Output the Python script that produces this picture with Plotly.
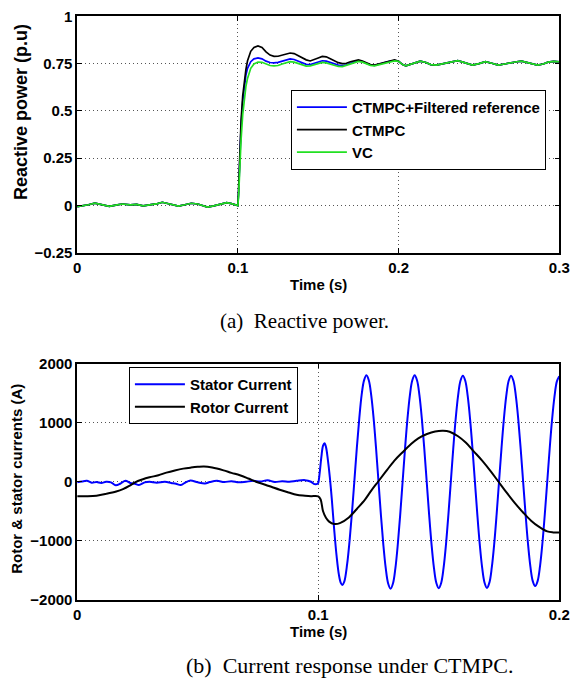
import plotly.graph_objects as go

W, H = 581, 687

# ---------------- Data: (a) reactive power (p.u) ----------------
q_pre_t = [0.000, 0.003, 0.007, 0.011, 0.015, 0.020, 0.024, 0.028, 0.033, 0.037, 0.041, 0.046, 0.050, 0.053,
           0.057, 0.063, 0.067, 0.071, 0.075, 0.078, 0.081, 0.085, 0.089, 0.093, 0.096, 0.0995, 0.1000]
q_pre = [-0.006, -0.003, 0.004, 0.012, 0.004, -0.004, 0.002, 0.008, 0.003, 0.006, -0.002, 0.004, 0.010, 0.017,
         0.008, -0.003, 0.004, 0.012, 0.008, 0.002, -0.008, -0.002, 0.006, 0.015, 0.010, 0.000, 0.000]

q_tr_t = [0.1005, 0.101, 0.102, 0.103, 0.104, 0.105, 0.106, 0.108, 0.110, 0.1125, 0.115, 0.1175, 0.120, 0.1225,
          0.125, 0.1275, 0.130, 0.1325, 0.135, 0.1375, 0.140, 0.1425, 0.145, 0.1475, 0.150, 0.1525, 0.155, 0.1575,
          0.160, 0.1625, 0.165, 0.1675, 0.170, 0.1725, 0.175, 0.1775, 0.180, 0.1825, 0.185, 0.1875, 0.190, 0.1925,
          0.195, 0.1975]
q_ctmpc_filt = [0.08, 0.22, 0.42, 0.55, 0.63, 0.69, 0.725, 0.760, 0.775, 0.780, 0.775, 0.763, 0.756, 0.754,
                0.757, 0.764, 0.770, 0.775, 0.772, 0.763, 0.752, 0.746, 0.745, 0.752, 0.760, 0.765, 0.763, 0.755,
                0.748, 0.742, 0.740, 0.744, 0.752, 0.760, 0.765, 0.760, 0.750, 0.743, 0.740, 0.745, 0.752, 0.758,
                0.764, 0.766]
q_ctmpc = [0.10, 0.25, 0.45, 0.58, 0.66, 0.72, 0.765, 0.815, 0.835, 0.843, 0.835, 0.812, 0.795, 0.788,
           0.789, 0.796, 0.800, 0.806, 0.803, 0.792, 0.780, 0.770, 0.764, 0.770, 0.780, 0.788, 0.786, 0.776,
           0.765, 0.755, 0.750, 0.752, 0.760, 0.766, 0.770, 0.764, 0.754, 0.745, 0.742, 0.748, 0.755, 0.762,
           0.767, 0.770]
q_vc = [0.06, 0.18, 0.35, 0.48, 0.57, 0.63, 0.672, 0.725, 0.748, 0.758, 0.757, 0.748, 0.740, 0.738,
        0.740, 0.748, 0.755, 0.760, 0.758, 0.750, 0.742, 0.737, 0.738, 0.745, 0.752, 0.756, 0.754, 0.747,
        0.740, 0.735, 0.734, 0.740, 0.748, 0.756, 0.762, 0.758, 0.748, 0.741, 0.738, 0.743, 0.750, 0.756,
        0.762, 0.764]

q_tail_t = [0.200, 0.2025, 0.2045, 0.207, 0.210, 0.2135, 0.217, 0.220, 0.2235, 0.227, 0.230, 0.2335, 0.2368,
            0.240, 0.243, 0.246, 0.250, 0.254, 0.258, 0.262, 0.266, 0.270, 0.2735, 0.2765, 0.280, 0.283, 0.2865,
            0.290, 0.293, 0.2965, 0.300]
q_tail = [0.762, 0.745, 0.738, 0.745, 0.756, 0.763, 0.756, 0.745, 0.742, 0.748, 0.756, 0.762, 0.766,
          0.758, 0.748, 0.742, 0.750, 0.760, 0.752, 0.742, 0.748, 0.756, 0.760, 0.763, 0.756, 0.746, 0.742,
          0.748, 0.758, 0.762, 0.760]

# ---------------- Data: (b) currents (A) ----------------
stator_pre_t = [0.000, 0.002, 0.004, 0.006, 0.008, 0.010, 0.012, 0.014, 0.016, 0.018, 0.020, 0.022, 0.024, 0.0256,
                0.028, 0.030, 0.033, 0.0364, 0.039, 0.041, 0.043, 0.045, 0.047, 0.050, 0.053, 0.055, 0.058, 0.061,
                0.064, 0.067, 0.070, 0.073, 0.076, 0.079, 0.082, 0.085, 0.088, 0.091, 0.0945, 0.097, 0.0985, 0.0998]
stator_pre = [-10, 5, 16, -15, -5, -20, 0, -10, -60, -30, 16, -20, -35, -55,
              -10, 0, -15, 0, -20, -35, -55, -10, 20, -10, -30, -5, 15, -5,
              10, -10, 0, 15, 5, 25, -5, 10, 0, 15, 27, 0, -40, -30]
stator_tr_t = [0.1000, 0.1006, 0.1013, 0.1020, 0.1026, 0.1032, 0.1040, 0.1048, 0.1056, 0.1066, 0.1076, 0.1086,
               0.1094, 0.1100, 0.1108, 0.1120, 0.1130]
stator_tr = [-20, 150, 420, 610, 650, 590, 370, 80, -280, -800, -1250, -1580,
             -1715, -1745, -1690, -1390, -1000]
stator_ss_t = [0.114, 0.115, 0.116, 0.117, 0.118, 0.119, 0.120,
               0.121, 0.122, 0.123, 0.124, 0.125, 0.126, 0.127, 0.128, 0.129, 0.130,
               0.131, 0.132, 0.133, 0.134, 0.135, 0.136, 0.137, 0.138, 0.139, 0.140,
               0.141, 0.142, 0.143, 0.144, 0.145, 0.146, 0.147, 0.148, 0.149, 0.150,
               0.151, 0.152, 0.153, 0.154, 0.155, 0.156, 0.157, 0.158, 0.159, 0.160,
               0.161, 0.162, 0.163, 0.164, 0.165, 0.166, 0.167, 0.168, 0.169, 0.170,
               0.171, 0.172, 0.173, 0.174, 0.175, 0.176, 0.177, 0.178, 0.179, 0.180,
               0.181, 0.182, 0.183, 0.184, 0.185, 0.186, 0.187, 0.188, 0.189, 0.190,
               0.191, 0.192, 0.193, 0.194, 0.195, 0.196, 0.197, 0.198, 0.199, 0.200]
stator_ss = [-520, 20, 570, 1060, 1470, 1715, 1800,
             1712, 1458, 1060, 558, 0, -560, -1062, -1462, -1720, -1810,
             -1722, -1465, -1063, -560, 0, 558, 1060, 1458, 1712, 1800,
             1712, 1457, 1058, 556, 0, -556, -1058, -1456, -1712, -1800,
             -1712, -1456, -1058, -556, 0, 556, 1057, 1454, 1708, 1795,
             1708, 1453, 1056, 555, 0, -555, -1056, -1453, -1708, -1795,
             -1706, -1450, -1054, -553, 0, 553, 1055, 1452, 1707, 1795,
             1705, 1445, 1048, 549, 0, -545, -1040, -1430, -1680, -1765,
             -1680, -1430, -1040, -545, 0, 550, 1045, 1440, 1697, 1785]

rotor_t = [0.000, 0.004, 0.008, 0.012, 0.0162, 0.019, 0.0216, 0.024, 0.027, 0.030, 0.0337, 0.037, 0.0405, 0.044,
           0.0472, 0.050, 0.0526, 0.056, 0.0607, 0.064, 0.0675, 0.071, 0.0742, 0.078, 0.081, 0.084, 0.0877, 0.091,
           0.0945, 0.097, 0.1000, 0.1010, 0.1020, 0.1032, 0.1045, 0.1066, 0.109, 0.1127, 0.116, 0.1194, 0.122,
           0.1248, 0.128, 0.1316, 0.135, 0.1383, 0.1415, 0.1451, 0.1485, 0.1518, 0.1545, 0.158, 0.1613, 0.1645,
           0.168, 0.1715, 0.1748, 0.178, 0.1815, 0.185, 0.1883, 0.1915, 0.195, 0.1975, 0.200]
rotor = [-247, -245, -235, -205, -165, -125, -71, -10, 38, 75, 110, 155, 192, 222,
         240, 252, 258, 240, 192, 150, 110, 55, 0, -50, -93, -135, -181, -220,
         -236, -244, -247, -300, -500, -610, -675, -714, -700, -604, -460, -302, -150,
         0, 170, 357, 500, 631, 735, 807, 850, 862, 846, 770, 659, 515,
         357, 180, 0, -175, -357, -520, -659, -760, -840, -857, -860]

# ---------------- Axis ticks ----------------
xa_ticks = [0, 0.1, 0.2, 0.3]
xa_text = ["0", "0.1", "0.2", "0.3"]
ya_ticks = [-0.25, 0, 0.25, 0.5, 0.75, 1]
ya_text = ["\u22120.25", "0", "0.25", "0.5", "0.75", "1"]
xb_ticks = [0, 0.1, 0.2]
xb_text = ["0", "0.1", "0.2"]
yb_ticks = [-2000, -1000, 0, 1000, 2000]
yb_text = ["\u22122000", "\u22121000", "0", "1000", "2000"]


def pxx(x):
    return x / W


def pxy(y):
    return 1 - y / H


SANS = "Liberation Sans, Arial, Helvetica, sans-serif"
SERIF = "Liberation Serif, Times New Roman, serif"
BOLD = dict(family=SANS, size=15, color="black", weight="bold")

fig = go.Figure()

q_t = q_pre_t + q_tr_t + q_tail_t
fig.add_trace(go.Scatter(x=q_t, y=q_pre + q_ctmpc_filt + q_tail, mode="lines",
                         name="CTMPC+Filtered reference", line=dict(color="#0000ff", width=1.7),
                         xaxis="x", yaxis="y", legend="legend"))
fig.add_trace(go.Scatter(x=q_t, y=q_pre + q_ctmpc + q_tail, mode="lines",
                         name="CTMPC", line=dict(color="black", width=1.7),
                         xaxis="x", yaxis="y", legend="legend"))
fig.add_trace(go.Scatter(x=q_t, y=q_pre + q_vc + q_tail, mode="lines",
                         name="VC", line=dict(color="#22e022", width=1.7),
                         xaxis="x", yaxis="y", legend="legend"))

fig.add_trace(go.Scatter(x=stator_pre_t + stator_tr_t + stator_ss_t, y=stator_pre + stator_tr + stator_ss,
                         mode="lines", name="Stator Current",
                         line=dict(color="#0000ff", width=2, shape="spline"),
                         xaxis="x2", yaxis="y2", legend="legend2"))
fig.add_trace(go.Scatter(x=rotor_t, y=rotor, mode="lines",
                         name="Rotor Current", line=dict(color="black", width=2, shape="spline"),
                         xaxis="x2", yaxis="y2", legend="legend2"))

axis_common = dict(showline=True, linecolor="black", linewidth=1.5, mirror="allticks",
                   ticks="inside", ticklen=5, tickwidth=1, tickcolor="black",
                   showgrid=True, gridcolor="#555555", griddash="1px,3px", gridwidth=1,
                   zeroline=False, tickfont=BOLD, fixedrange=True)

fig.update_layout(
    width=W, height=H, margin=dict(l=0, r=0, t=0, b=0),
    paper_bgcolor="white", plot_bgcolor="white", showlegend=True, hovermode=False,
    xaxis=dict(domain=[pxx(75), pxx(569)], range=[0, 0.3], tickvals=xa_ticks, ticktext=xa_text,
               anchor="y", **axis_common),
    yaxis=dict(domain=[pxy(250), pxy(7.5)], range=[-0.25, 1], tickvals=ya_ticks, ticktext=ya_text,
               anchor="x", **axis_common),
    xaxis2=dict(domain=[pxx(75), pxx(569)], range=[0, 0.2], tickvals=xb_ticks, ticktext=xb_text,
                anchor="y2", **axis_common),
    yaxis2=dict(domain=[pxy(606), pxy(363.5)], range=[-2000, 2000], tickvals=yb_ticks, ticktext=yb_text,
                anchor="x2", **axis_common),
    legend=dict(x=pxx(294), y=pxy(83), xanchor="left", yanchor="top", bgcolor="white",
                bordercolor="black", borderwidth=1, font=BOLD, itemwidth=50, tracegroupgap=0),
    legend2=dict(x=pxx(128), y=pxy(367), xanchor="left", yanchor="top", bgcolor="white",
                 bordercolor="black", borderwidth=1, font=BOLD, itemwidth=50, tracegroupgap=0),
)

annotations = [
    dict(text="Time (s)", x=pxx(322), y=pxy(282.5), font=BOLD),
    dict(text="Reactive power (p.u)", x=pxx(18), y=pxy(106), textangle=-90,
         font=dict(family=SANS, size=18, color="black", weight="bold")),
    dict(text="(a)  Reactive power.", x=pxx(308), y=pxy(320),
         font=dict(family=SERIF, size=21, color="black")),
    dict(text="Time (s)", x=pxx(322), y=pxy(638), font=BOLD),
    dict(text="Rotor &amp; stator currents (A)", x=pxx(12), y=pxy(482), textangle=-90, font=BOLD),
    dict(text="(b)  Current response under CTMPC.", x=pxx(355), y=pxy(673),
         font=dict(family=SERIF, size=22, color="black")),
]
for a in annotations:
    fig.add_annotation(xref="paper", yref="paper", showarrow=False, xanchor="center", yanchor="middle", **a)

fig.write_html("out.html", config={"displayModeBar": False})
